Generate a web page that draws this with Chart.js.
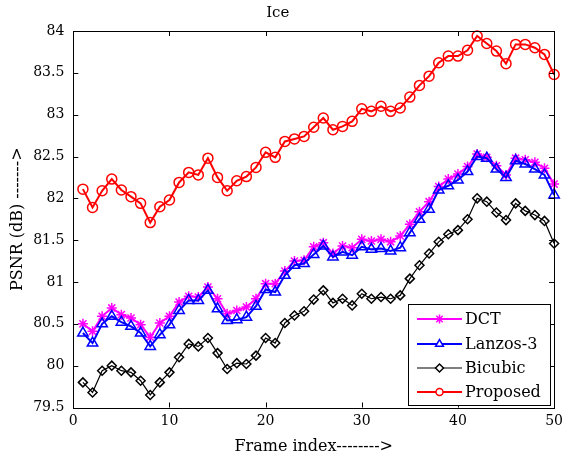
<!DOCTYPE html>
<html>
<head>
<meta charset="utf-8">
<script src="https://cdn.jsdelivr.net/npm/chart.js@4/dist/chart.umd.min.js"></script>
<style>
html,body{margin:0;padding:0;background:#fff;}
#wrap{width:568px;height:461px;}
</style>
</head>
<body>
<div id="wrap"><canvas id="c" width="568" height="461"></canvas></div>
<script>
const frames = [1,2,3,4,5,6,7,8,9,10,11,12,13,14,15,16,17,18,19,20,21,22,23,24,25,26,27,28,29,30,31,32,33,34,35,36,37,38,39,40,41,42,43,44,45,46,47,48,49,50];
const dctValues = [80.50,80.41,80.59,80.69,80.61,80.57,80.49,80.34,80.51,80.59,80.76,80.83,80.82,80.94,80.80,80.62,80.66,80.70,80.80,80.98,80.98,81.13,81.25,81.26,81.42,81.47,81.34,81.43,81.41,81.51,81.49,81.51,81.48,81.55,81.69,81.84,81.96,82.14,82.23,82.29,82.38,82.53,82.49,82.39,82.28,82.48,82.46,82.43,82.36,82.17];
const lanzosValues = [80.39,80.27,80.50,80.59,80.52,80.47,80.39,80.23,80.37,80.49,80.66,80.78,80.78,80.90,80.68,80.54,80.55,80.58,80.71,80.91,80.88,81.08,81.20,81.22,81.33,81.43,81.30,81.36,81.32,81.42,81.39,81.40,81.37,81.41,81.59,81.75,81.87,82.10,82.15,82.22,82.32,82.50,82.48,82.35,82.25,82.45,82.41,82.35,82.28,82.04];
const bicubicValues = [79.80,79.68,79.94,80.00,79.94,79.92,79.82,79.65,79.80,79.92,80.10,80.26,80.23,80.33,80.15,79.96,80.03,80.02,80.12,80.33,80.27,80.51,80.60,80.65,80.79,80.90,80.75,80.80,80.72,80.86,80.80,80.82,80.80,80.84,81.04,81.20,81.34,81.48,81.57,81.62,81.75,82.00,81.96,81.83,81.74,81.94,81.85,81.80,81.73,81.46];
const proposedValues = [82.11,81.89,82.09,82.23,82.10,82.02,81.94,81.71,81.90,81.98,82.19,82.31,82.28,82.48,82.25,82.09,82.21,82.26,82.37,82.55,82.49,82.68,82.71,82.74,82.85,82.96,82.82,82.86,82.92,83.07,83.04,83.10,83.04,83.08,83.21,83.35,83.46,83.62,83.70,83.70,83.77,83.94,83.85,83.76,83.61,83.84,83.84,83.80,83.72,83.48];
const seriesNames = ["DCT","Lanzos-3","Bicubic","Proposed"];
const xTickValues = [0,10,20,30,40,50];
const yTickValues = [79.5,80,80.5,81,81.5,82,82.5,83,83.5,84];
const yTickLabels = ["79.5","80","80.5","81","81.5","82","82.5","83","83.5","84"];
const chartTitle = "Ice";
const xTitle = "Frame index-------->";
const yTitle = "PSNR (dB) ------->";

const SERIF = "'DejaVu Serif',serif";
const toXY = vals => frames.map((f,i)=>({x:f,y:vals[i]}));

const styles = [
  {color:'#ff00ff', pointStyle:'star', radius:5, lw:2, order:4},
  {color:'#0000ff', pointStyle:'triangle', radius:6, lw:2, order:3},
  {color:'#000000', pointStyle:'rectRot', radius:4.5, lw:1.2, order:2},
  {color:'#ff0000', pointStyle:'circle', radius:5, lw:2, order:1}
];
const allValues = [dctValues, lanzosValues, bicubicValues, proposedValues];

const datasets = allValues.map((vals,i)=>({
  label: seriesNames[i],
  data: toXY(vals),
  borderColor: styles[i].color,
  backgroundColor: 'rgba(0,0,0,0)',
  borderWidth: styles[i].lw,
  pointStyle: styles[i].pointStyle,
  pointRadius: styles[i].radius,
  pointBorderWidth: 1.5,
  pointBorderColor: styles[i].color,
  pointBackgroundColor: 'rgba(0,0,0,0)',
  tension: 0,
  fill: false,
  clip: false,
  order: styles[i].order
}));

const framePlugin = {
  id: 'framePlugin',
  afterDatasetsDraw(chart) {
    const {ctx, chartArea: a, scales} = chart;
    ctx.save();
    ctx.strokeStyle = '#000';
    ctx.lineWidth = 1;
    ctx.beginPath();
    const tl = 5;
    xTickValues.forEach(v => {
      if (v === 0 || v === 50) return;
      const x = Math.round(scales.x.getPixelForValue(v)) + 0.5;
      ctx.moveTo(x, a.bottom); ctx.lineTo(x, a.bottom - tl);
      ctx.moveTo(x, a.top); ctx.lineTo(x, a.top + tl);
    });
    yTickValues.forEach(v => {
      const y = Math.round(scales.y.getPixelForValue(v)) + 0.5;
      ctx.moveTo(a.left, y); ctx.lineTo(a.left + tl, y);
      ctx.moveTo(a.right, y); ctx.lineTo(a.right - tl, y);
    });
    ctx.stroke();
    ctx.strokeRect(Math.round(a.left)+0.5, Math.round(a.top)+0.5, Math.round(a.right-a.left), Math.round(a.bottom-a.top));
    ctx.restore();
  },
  afterDraw(chart) {
    const ctx = chart.ctx;
    ctx.save();
    const bx = 408.5, by = 304.5, bw = 142, bh = 101;
    ctx.fillStyle = '#fff';
    ctx.fillRect(bx, by, bw, bh);
    ctx.strokeStyle = '#000';
    ctx.lineWidth = 1;
    ctx.strokeRect(bx, by, bw, bh);
    const rows = [319, 344, 368, 392];
    const legendRadius = [4.5, 4.5, 4, 3.5];
    seriesNames.forEach((name, i) => {
      const y = rows[i];
      ctx.strokeStyle = styles[i].color;
      ctx.lineWidth = styles[i].lw;
      ctx.beginPath();
      ctx.moveTo(417, y); ctx.lineTo(462, y);
      ctx.stroke();
      ctx.lineWidth = 1.5;
      ctx.fillStyle = '#fff';
      Chart.helpers.drawPoint(ctx, {pointStyle: styles[i].pointStyle, radius: legendRadius[i], rotation: 0, borderWidth: 1.5}, 439.5, y);
      ctx.fillStyle = '#000';
      ctx.font = "16px " + SERIF;
      ctx.textBaseline = 'middle';
      ctx.textAlign = 'left';
      ctx.fillText(name, 465, y + 1);
    });
    ctx.restore();
  }
};

new Chart(document.getElementById('c'), {
  type: 'line',
  data: { datasets },
  plugins: [framePlugin],
  options: {
    responsive: false,
    animation: false,
    devicePixelRatio: 1,
    layout: { padding: { left: 0, right: 12.5, top: 0, bottom: 0 } },
    plugins: {
      legend: { display: false },
      tooltip: { enabled: false },
      title: {
        display: true,
        text: chartTitle,
        color: '#000',
        font: { family: SERIF, size: 15, weight: 'normal' },
        padding: { top: 4, bottom: 9 }
      }
    },
    scales: {
      x: {
        type: 'linear',
        min: 0, max: 50,
        afterFit(s) { s.height = 53.5; },
        afterBuildTicks(s) { s.ticks = xTickValues.map(v => ({value: v})); },
        grid: { display: false, drawTicks: false },
        border: { display: false },
        ticks: { color: '#000', font: { family: SERIF, size: 14 }, padding: 5, maxRotation: 0, autoSkip: false, callback: v => String(v) },
        title: { display: true, text: xTitle, color: '#000', font: { family: SERIF, size: 16 }, padding: { top: 0, bottom: 4.4 } }
      },
      y: {
        type: 'linear',
        min: 79.5, max: 84,
        afterFit(s) { s.width = 73.3; },
        afterBuildTicks(s) { s.ticks = yTickValues.map(v => ({value: v})); },
        grid: { display: false, drawTicks: false },
        border: { display: false },
        ticks: { color: '#000', font: { family: SERIF, size: 14 }, padding: 9, autoSkip: false,
          callback: v => { const k = yTickValues.indexOf(v); return k >= 0 ? yTickLabels[k] : ''; } },
        title: { display: true, text: yTitle, color: '#000', font: { family: SERIF, size: 16 }, padding: { top: 8.4, bottom: 0 } }
      }
    }
  }
});
</script>
</body>
</html>
